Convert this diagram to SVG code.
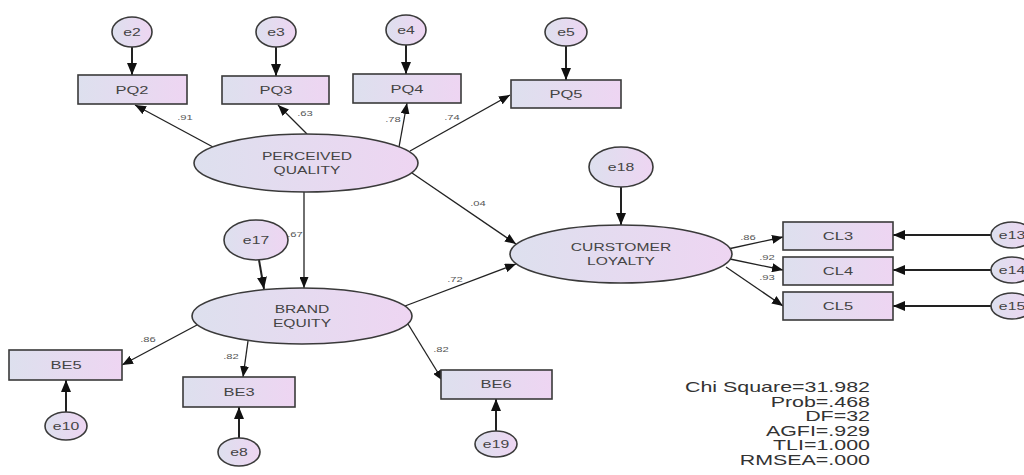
<svg xmlns="http://www.w3.org/2000/svg" width="1024" height="475" viewBox="0 0 1024 475">
<defs>
<linearGradient id="g" x1="0" y1="0" x2="1" y2="0">
<stop offset="0" stop-color="#dde0ee"/>
<stop offset="1" stop-color="#eed5f2"/>
</linearGradient>
<marker id="ah" markerUnits="userSpaceOnUse" markerWidth="11" markerHeight="9" refX="11" refY="4.5" orient="auto">
<path d="M0,0 L11,4.5 L0,9 z" fill="#111"/>
</marker>
<marker id="ahb" markerUnits="userSpaceOnUse" markerWidth="12" markerHeight="10" refX="12" refY="5" orient="auto">
<path d="M0,0 L12,5 L0,10 z" fill="#111"/>
</marker>
<style>
.n{fill:url(#g);stroke:#3a3a3a;stroke-width:1.6}
.t{font-family:"Liberation Sans",Arial,sans-serif;font-size:11px;fill:#444;text-anchor:middle}
.te{font-family:"Liberation Sans",Arial,sans-serif;font-size:10.5px;fill:#444;text-anchor:middle}
.tp{font-family:"Liberation Sans",Arial,sans-serif;font-size:8px;fill:#555;text-anchor:middle}
.ts{font-family:"Liberation Sans",Arial,sans-serif;font-size:14px;fill:#333;text-anchor:end}
.c{stroke:#222;stroke-width:1.3;fill:none;marker-end:url(#ah)}
.ce{stroke:#222;stroke-width:2;fill:none;marker-end:url(#ahb)}
</style>
</defs>
<rect width="1024" height="475" fill="#fff"/>

<g id="connectors">
<line class="ce" x1="132" y1="47" x2="132" y2="75"/>
<line class="ce" x1="276" y1="47" x2="276" y2="76"/>
<line class="ce" x1="406" y1="45" x2="406" y2="74"/>
<line class="ce" x1="566" y1="46" x2="566" y2="80"/>
<line class="ce" x1="259" y1="260" x2="264" y2="289"/>
<line class="ce" x1="621" y1="187" x2="621" y2="225"/>
<line class="ce" x1="991" y1="235" x2="893" y2="235"/>
<line class="ce" x1="991" y1="270" x2="893" y2="270"/>
<line class="ce" x1="991" y1="306" x2="893" y2="306"/>
<line class="ce" x1="66" y1="412" x2="66" y2="380"/>
<line class="ce" x1="239" y1="438" x2="239" y2="407"/>
<line class="ce" x1="496" y1="431" x2="496" y2="399"/>

<line class="c" x1="213" y1="147" x2="135" y2="105"/>
<line class="c" x1="307" y1="134" x2="278" y2="105"/>
<line class="c" x1="399" y1="147" x2="407" y2="103"/>
<line class="c" x1="410" y1="151" x2="510" y2="95"/>
<line class="c" x1="412" y1="173" x2="516" y2="244"/>
<line class="c" x1="304" y1="192" x2="304" y2="288"/>
<line class="c" x1="405" y1="306" x2="516" y2="264"/>
<line class="c" x1="197" y1="325" x2="122" y2="365"/>
<line class="c" x1="248" y1="341" x2="243" y2="377"/>
<line class="c" x1="408" y1="324" x2="443" y2="381"/>
<line class="c" x1="728" y1="249" x2="783" y2="237"/>
<line class="c" x1="730" y1="259" x2="783" y2="270"/>
<line class="c" x1="726" y1="267" x2="783" y2="306"/>

<text class="tp" transform="translate(185,120) scale(1.4,1)">.91</text>
<text class="tp" transform="translate(305,116) scale(1.4,1)">.63</text>
<text class="tp" transform="translate(393,122) scale(1.4,1)">.78</text>
<text class="tp" transform="translate(452,120) scale(1.4,1)">.74</text>
<text class="tp" transform="translate(478,206) scale(1.4,1)">.04</text>
<text class="tp" transform="translate(295,237) scale(1.4,1)">.67</text>
<text class="tp" transform="translate(455,282) scale(1.4,1)">.72</text>
<text class="tp" transform="translate(148,342) scale(1.4,1)">.86</text>
<text class="tp" transform="translate(231,359) scale(1.4,1)">.82</text>
<text class="tp" transform="translate(441,352) scale(1.4,1)">.82</text>
<text class="tp" transform="translate(748,240) scale(1.4,1)">.86</text>
<text class="tp" transform="translate(767,260) scale(1.4,1)">.92</text>
<text class="tp" transform="translate(767,280) scale(1.4,1)">.93</text>
</g>

<g id="e2"><ellipse class="n" cx="132" cy="32" rx="20" ry="15"/><text class="te" transform="translate(132,36) scale(1.5,1)">e2</text></g>
<g id="e3"><ellipse class="n" cx="276" cy="32" rx="20" ry="15"/><text class="te" transform="translate(276,36) scale(1.5,1)">e3</text></g>
<g id="e4"><ellipse class="n" cx="406" cy="30" rx="20" ry="15"/><text class="te" transform="translate(406,34) scale(1.5,1)">e4</text></g>
<g id="e5"><ellipse class="n" cx="566" cy="32" rx="21" ry="14"/><text class="te" transform="translate(566,36) scale(1.5,1)">e5</text></g>

<g id="PQ2"><rect class="n" x="78" y="75" width="109" height="29"/><text class="t" transform="translate(132,94) scale(1.5,1)">PQ2</text></g>
<g id="PQ3"><rect class="n" x="222" y="76" width="107" height="28"/><text class="t" transform="translate(276,94) scale(1.5,1)">PQ3</text></g>
<g id="PQ4"><rect class="n" x="353" y="74" width="108" height="29"/><text class="t" transform="translate(407,93) scale(1.5,1)">PQ4</text></g>
<g id="PQ5"><rect class="n" x="511" y="80" width="110" height="28"/><text class="t" transform="translate(566,98) scale(1.5,1)">PQ5</text></g>

<g id="PERCEIVED_QUALITY"><ellipse class="n" cx="306" cy="163" rx="112" ry="29"/>
<text class="t" transform="translate(307,160) scale(1.42,1)">PERCEIVED</text>
<text class="t" transform="translate(307,174) scale(1.42,1)">QUALITY</text></g>

<g id="e17"><ellipse class="n" cx="256" cy="240" rx="32" ry="20"/><text class="te" transform="translate(256,244) scale(1.5,1)">e17</text></g>

<g id="BRAND_EQUITY"><ellipse class="n" cx="302" cy="316" rx="110" ry="28"/>
<text class="t" transform="translate(302,313) scale(1.42,1)">BRAND</text>
<text class="t" transform="translate(302,327) scale(1.42,1)">EQUITY</text></g>

<g id="e18"><ellipse class="n" cx="621" cy="167" rx="32" ry="20"/><text class="te" transform="translate(621,171) scale(1.5,1)">e18</text></g>

<g id="CURSTOMER_LOYALTY"><ellipse class="n" cx="621" cy="254" rx="111" ry="29"/>
<text class="t" transform="translate(621,251) scale(1.42,1)">CURSTOMER</text>
<text class="t" transform="translate(621,265) scale(1.42,1)">LOYALTY</text></g>

<g id="CL3"><rect class="n" x="783" y="222" width="110" height="28"/><text class="t" transform="translate(838,240) scale(1.5,1)">CL3</text></g>
<g id="CL4"><rect class="n" x="783" y="257" width="110" height="28"/><text class="t" transform="translate(838,275) scale(1.5,1)">CL4</text></g>
<g id="CL5"><rect class="n" x="783" y="292" width="110" height="28"/><text class="t" transform="translate(838,310) scale(1.5,1)">CL5</text></g>

<g id="e13"><ellipse class="n" cx="1012" cy="235" rx="21" ry="13"/><text class="te" transform="translate(1012,239) scale(1.5,1)">e13</text></g>
<g id="e14"><ellipse class="n" cx="1012" cy="270" rx="21" ry="13"/><text class="te" transform="translate(1012,274) scale(1.5,1)">e14</text></g>
<g id="e15"><ellipse class="n" cx="1012" cy="306" rx="21" ry="13"/><text class="te" transform="translate(1012,310) scale(1.5,1)">e15</text></g>

<g id="BE5"><rect class="n" x="9" y="350" width="113" height="30"/><text class="t" transform="translate(66,369) scale(1.5,1)">BE5</text></g>
<g id="BE3"><rect class="n" x="183" y="377" width="112" height="30"/><text class="t" transform="translate(239,396) scale(1.5,1)">BE3</text></g>
<g id="BE6"><rect class="n" x="441" y="370" width="111" height="29"/><text class="t" transform="translate(496,388) scale(1.5,1)">BE6</text></g>

<g id="e10"><ellipse class="n" cx="66" cy="426" rx="21" ry="14"/><text class="te" transform="translate(66,430) scale(1.5,1)">e10</text></g>
<g id="e8"><ellipse class="n" cx="239" cy="452" rx="21" ry="14"/><text class="te" transform="translate(239,456) scale(1.5,1)">e8</text></g>
<g id="e19"><ellipse class="n" cx="496" cy="444" rx="21" ry="13"/><text class="te" transform="translate(496,448) scale(1.5,1)">e19</text></g>

<g id="fit">
<text class="ts" transform="translate(870,392) scale(1.53,1)">Chi Square=31.982</text>
<text class="ts" transform="translate(870,407) scale(1.53,1)">Prob=.468</text>
<text class="ts" transform="translate(870,421) scale(1.53,1)">DF=32</text>
<text class="ts" transform="translate(870,436) scale(1.53,1)">AGFI=.929</text>
<text class="ts" transform="translate(870,450) scale(1.53,1)">TLI=1.000</text>
<text class="ts" transform="translate(870,465) scale(1.53,1)">RMSEA=.000</text>
</g>
</svg>
